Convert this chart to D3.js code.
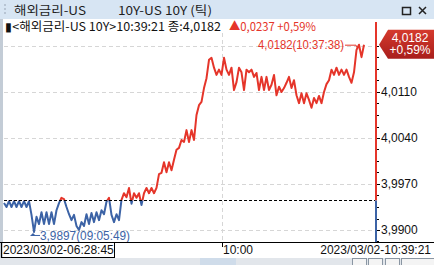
<!DOCTYPE html>
<html>
<head>
<meta charset="utf-8">
<script src="https://cdn.jsdelivr.net/npm/d3@7"></script>
<style>
  body { margin: 0; background: #fff; }
  svg { display: block; }
  text { font-family: "Liberation Sans", Arial, sans-serif; font-size: 12px; }
  .kr { font-family: "Noto Sans CJK KR", sans-serif; }
</style>
</head>
<body>
<svg width="434" height="265"></svg>
<script>
// tick data, US 10Y yield (one value per trade tick)
var values = [
  3.9941, 3.9935, 3.9944, 3.9935, 3.9944, 3.9935, 3.9944, 3.9935, 3.9944, 3.9935, 3.9944,
  3.9923, 3.9897, 3.9920, 3.9909, 3.9927, 3.9909, 3.9927, 3.9909, 3.9927, 3.9909, 3.9930,
  3.9941, 3.9949, 3.9947, 3.9935, 3.9924, 3.9915, 3.9923, 3.9906, 3.9900,
  3.9912, 3.9906, 3.9924, 3.9909, 3.9926, 3.9912, 3.9927, 3.9915, 3.9930, 3.9924,
  3.9943, 3.9949, 3.9923, 3.9912, 3.9924, 3.9915,
  3.9946, 3.9956, 3.9950, 3.9964, 3.9940, 3.9956, 3.9949, 3.9956, 3.9938, 3.9956, 3.9964, 3.9956, 3.9964, 3.9956, 3.9964,
  3.9985, 3.9987, 4.0003, 3.9988, 4.0003, 3.9991, 4.0007,
  4.0022, 4.0025, 4.0037, 4.0034, 4.0052, 4.0034, 4.0052, 4.0037,
  4.0075, 4.0090, 4.0095, 4.0116, 4.0131, 4.0159, 4.0162,
  4.0147, 4.0136, 4.0144, 4.0136, 4.0162, 4.0144, 4.0136, 4.0147,
  4.0113, 4.0125, 4.0147, 4.0140, 4.0113, 4.0144, 4.0140, 4.0144, 4.0133, 4.0139,
  4.0113, 4.0133, 4.0113, 4.0133, 4.0113, 4.0121, 4.0136,
  4.0105, 4.0118, 4.0110, 4.0116, 4.0124, 4.0133, 4.0116, 4.0128, 4.0105,
  4.0093, 4.0108, 4.0093, 4.0108, 4.0098, 4.0086, 4.0101, 4.0093, 4.0104, 4.0093,
  4.0110, 4.0122, 4.0128, 4.0144, 4.0136, 4.0147, 4.0136, 4.0144, 4.0136, 4.0144, 4.0133, 4.0124, 4.0140,
  4.0174, 4.0182, 4.0163, 4.0182
];
var prevClose = 3.9945;
var yTicks = [3.9900, 3.9970, 4.0040, 4.0110, 4.0180];
var yMinorStep = 0.00175;
var xTickIndex = [87];
var xTickLabels = ["10:00"];
var startLabel = "2023/03/02-06:28:45";
var endLabel = "2023/03/02-10:39:21";
var maxTime = "10:37:38", minTime = "09:05:49";
var titleLeft = "해외금리-US", titleRight = "10Y-US 10Y (틱)";
var infoLeft = "▮<해외금리-US 10Y>10:39:21 종:4,0182";
var infoRight = "▲0,0237 +0,59%";
var tagLines = ["4,0182", "+0,59%"];

var red = "#e5352a", blue = "#3c63a6";

var svg = d3.select("svg"),
    width = +svg.attr("width"),
    height = +svg.attr("height"),
    axisX = 375,
    plotTop = 19,
    plotBottom = 242;

var x = d3.scaleLinear().domain([0, values.length - 1]).range([4, 364]);
var y = d3.scaleLinear().domain([3.99, 4.018]).range([230, 46]);
var fmt = function(v) { return d3.format(".4f")(v).replace(".", ","); };
var yPrev = Math.round(y(prevClose)) + 0.5;

// frame: title bar, left border, bottom strip
svg.append("rect").attr("width", width).attr("height", height).attr("fill", "#fff");
svg.append("rect").attr("width", width).attr("height", plotTop).attr("fill", "#d7e5f3");
svg.append("rect").attr("y", plotTop).attr("width", 3).attr("height", height - plotTop).attr("fill", "#c3ccd6");
[4, 8, 12].forEach(function(d) {
  svg.append("rect").attr("x", 4).attr("y", d).attr("width", 2).attr("height", 2).attr("fill", "#b7c4d3");
});
svg.append("text").attr("class", "kr").attr("x", 14).attr("y", 11).attr("dy", "0.35em")
    .attr("font-size", 13).attr("fill", "#1e1e1e")
    .attr("textLength", 72).attr("lengthAdjust", "spacingAndGlyphs").text(titleLeft);
svg.append("text").attr("class", "kr").attr("x", 118).attr("y", 11).attr("dy", "0.35em")
    .attr("font-size", 13).attr("fill", "#1e1e1e")
    .attr("textLength", 94).attr("lengthAdjust", "spacingAndGlyphs").text(titleRight);
// window buttons
svg.append("rect").attr("x", 402.5).attr("y", 7.5).attr("width", 8).attr("height", 7)
    .attr("fill", "none").attr("stroke", "#222").attr("stroke-width", 1.5);
svg.append("path").attr("d", "M419,7L426,14M426,7L419,14").attr("stroke", "#222").attr("stroke-width", 1.5);

// grid
var g = svg.append("g");
g.selectAll(".hgrid").data(yTicks).enter().append("line")
    .attr("x1", 4).attr("x2", axisX)
    .attr("y1", function(d) { return Math.round(y(d)) + 0.5; })
    .attr("y2", function(d) { return Math.round(y(d)) + 0.5; })
    .attr("stroke", "#d6d6d6").attr("stroke-dasharray", "4,3");
g.selectAll(".vgrid").data(xTickIndex).enter().append("line")
    .attr("x1", function(d) { return Math.round(x(d)) + 0.5; })
    .attr("x2", function(d) { return Math.round(x(d)) + 0.5; })
    .attr("y1", plotTop + 14).attr("y2", plotBottom)
    .attr("stroke", "#d6d6d6").attr("stroke-dasharray", "4,3");

// info line
var info = svg.append("g");
info.append("text").attr("class", "kr").attr("x", 5).attr("y", 27).attr("dy", "0.35em")
    .attr("fill", "#111").attr("textLength", 216).attr("lengthAdjust", "spacingAndGlyphs").text(infoLeft);
info.append("text").attr("class", "kr").attr("x", 229).attr("y", 27).attr("dy", "0.35em")
    .attr("fill", red).attr("textLength", 87).attr("lengthAdjust", "spacingAndGlyphs").text(infoRight);

// clip paths: red above previous close, blue below
var defs = svg.append("defs");
defs.append("clipPath").attr("id", "above").append("rect")
    .attr("x", 0).attr("y", plotTop).attr("width", axisX).attr("height", yPrev - plotTop);
defs.append("clipPath").attr("id", "below").append("rect")
    .attr("x", 0).attr("y", yPrev).attr("width", axisX).attr("height", plotBottom - yPrev);
var grad = defs.append("linearGradient").attr("id", "tag").attr("x1", 0).attr("y1", 0).attr("x2", 0).attr("y2", 1);
grad.append("stop").attr("offset", "0%").attr("stop-color", "#d53a2d");
grad.append("stop").attr("offset", "100%").attr("stop-color", "#a81e1c");

var line = d3.line()
    .x(function(d, i) { return x(i); })
    .y(function(d) { return y(d); });

g.append("path").datum(values).attr("d", line).attr("clip-path", "url(#above)")
    .attr("fill", "none").attr("stroke", red).attr("stroke-width", 2).attr("stroke-linejoin", "round");
g.append("path").datum(values).attr("d", line).attr("clip-path", "url(#below)")
    .attr("fill", "none").attr("stroke", blue).attr("stroke-width", 2).attr("stroke-linejoin", "round");

// previous close
g.append("line").attr("x1", 4).attr("x2", axisX).attr("y1", yPrev).attr("y2", yPrev)
    .attr("stroke", "#000").attr("stroke-dasharray", "3,2");

// right axis line, two colours
svg.append("rect").attr("x", axisX).attr("y", 22).attr("width", 2).attr("height", yPrev - 22).attr("fill", red);
svg.append("rect").attr("x", axisX).attr("y", yPrev).attr("width", 2).attr("height", plotBottom - yPrev).attr("fill", blue);

// minor ticks
var minor = d3.range(y.invert(plotBottom), y.invert(22), yMinorStep);
minor = d3.range(3.99 - yMinorStep, 4.0195, yMinorStep);
svg.selectAll(".minor").data(minor.filter(function(d) { return y(d) > 22 && y(d) < plotBottom; }))
  .enter().append("line")
    .attr("x1", axisX + 2).attr("x2", axisX + 4)
    .attr("y1", function(d) { return Math.round(y(d)) + 0.5; })
    .attr("y2", function(d) { return Math.round(y(d)) + 0.5; })
    .attr("stroke", "#000");

// axis labels
var yAxis = d3.axisRight(y).tickValues(yTicks.slice(0, 4)).tickSize(3).tickPadding(1).tickFormat(fmt);
svg.append("g").attr("transform", "translate(" + (axisX + 2) + ",0)").call(yAxis)
    .call(function(a) { a.select(".domain").remove(); })
    .call(function(a) {
      a.selectAll("text").attr("font-size", 12).attr("font-family", "Liberation Sans, Arial, sans-serif").attr("fill", "#111");
    });

// max / min annotations
var iMax = d3.maxIndex(values), iMin = d3.minIndex(values);
svg.append("text").attr("x", x(iMax) - 15).attr("y", y(values[iMax])).attr("dy", "0.35em")
    .attr("text-anchor", "end").attr("fill", red).attr("textLength", 86).attr("lengthAdjust", "spacingAndGlyphs")
    .text(fmt(values[iMax]) + "(" + maxTime + ")");
svg.append("path")
    .attr("d", "M" + (x(iMax) - 14) + "," + (y(values[iMax]) + 0.5) + "H" + (x(iMax) - 3) + "l2,4")
    .attr("fill", "none").attr("stroke", red);
svg.append("path")
    .attr("d", "M" + (x(iMin) - 1) + "," + (y(values[iMin]) + 1) + "l-3,3h6z")
    .attr("fill", blue);
svg.append("path")
    .attr("d", "M" + (x(iMin) + 1) + "," + (y(values[iMin]) + 3.5) + "h5")
    .attr("stroke", blue);
svg.append("text").attr("x", x(iMin) + 6).attr("y", y(values[iMin]) + 4).attr("dy", "0.35em")
    .attr("fill", blue).attr("textLength", 90).attr("lengthAdjust", "spacingAndGlyphs")
    .text(fmt(values[iMin]) + "(" + minTime + ")");

// last price tag
var yLast = y(values[values.length - 1]);
svg.append("path")
    .attr("d", "M" + (axisX + 4) + "," + yLast + "L388," + (yLast - 15) + "H434V" + (yLast + 14) + "H388Z")
    .attr("fill", "url(#tag)");
svg.selectAll(".tagtext").data(tagLines).enter().append("text")
    .attr("x", 410).attr("y", function(d, i) { return yLast - 7 + i * 12.5; }).attr("dy", "0.35em")
    .attr("text-anchor", "middle").attr("fill", "#fff").text(function(d) { return d; });

// x axis row
var xa = svg.append("g");
xa.append("line").attr("x1", 0).attr("x2", width).attr("y1", plotBottom + 0.5).attr("y2", plotBottom + 0.5).attr("stroke", "#000");
xa.append("rect").attr("x", 1.5).attr("y", plotBottom + 0.5).attr("width", 113).attr("height", 15)
    .attr("fill", "none").attr("stroke", "#000");
xa.append("text").attr("x", 3).attr("y", 250).attr("dy", "0.35em").attr("fill", "#111").text(startLabel);
xa.append("text").attr("x", 431).attr("y", 250).attr("dy", "0.35em").attr("text-anchor", "end").attr("fill", "#111").text(endLabel);
xa.selectAll(".xtick").data(xTickIndex).enter().append("line")
    .attr("x1", function(d) { return Math.round(x(d)) + 0.5; })
    .attr("x2", function(d) { return Math.round(x(d)) + 0.5; })
    .attr("y1", plotBottom).attr("y2", plotBottom + 5).attr("stroke", "#000");
xa.selectAll(".xlab").data(xTickIndex).enter().append("text")
    .attr("x", function(d) { return Math.round(x(d)) + 1; }).attr("y", 250).attr("dy", "0.35em")
    .attr("fill", "#111").text(function(d, i) { return xTickLabels[i]; });

// bottom strip with buttons
svg.append("rect").attr("x", 0).attr("y", 258).attr("width", width).attr("height", 7).attr("fill", "#e2e6eb");
svg.append("rect").attr("x", 200).attr("y", 258).attr("width", 36).attr("height", 7).attr("fill", "#cfdcea");
[[352, 14], [368, 14], [385, 14], [401, 33]].forEach(function(b) {
  svg.append("rect").attr("x", b[0] + 0.5).attr("y", 258.5).attr("width", b[1]).attr("height", 8)
      .attr("fill", "#f4f4f4").attr("stroke", "#8a96a3");
});
</script>
</body>
</html>
